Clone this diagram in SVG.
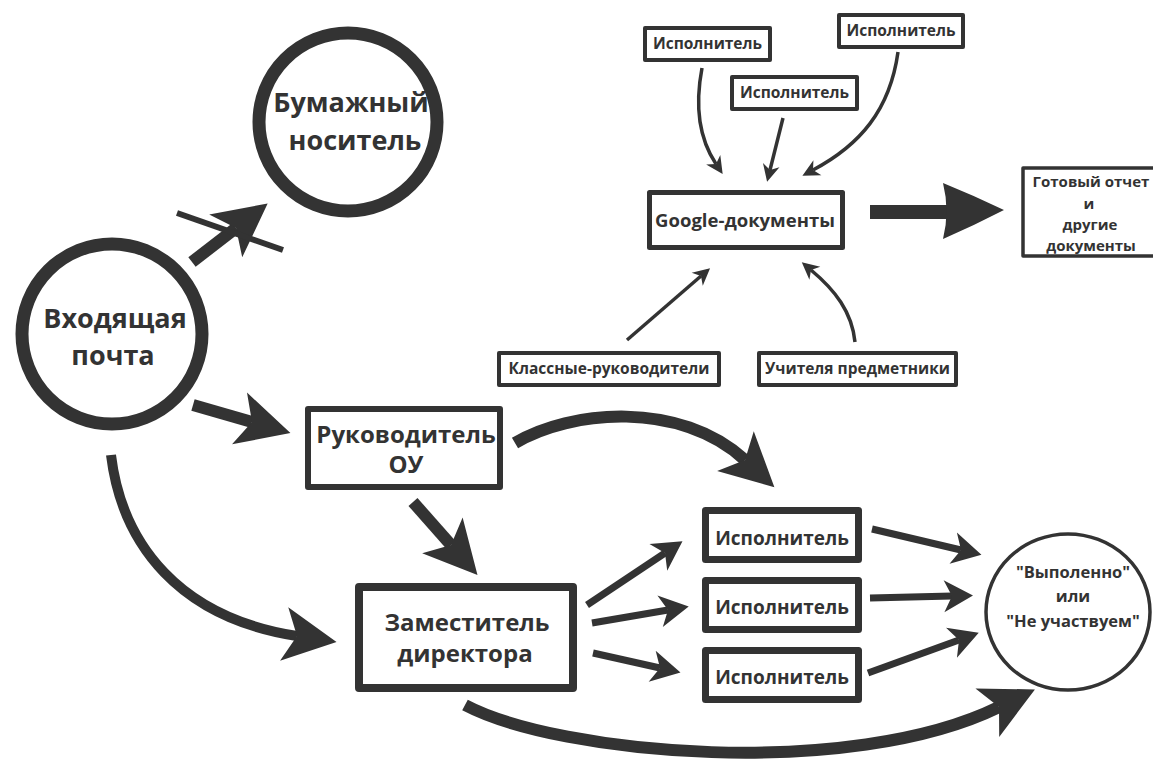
<svg xmlns="http://www.w3.org/2000/svg" width="1153" height="762" viewBox="0 0 1153 762">
<style>
text{font-family:"Open Sans","Liberation Sans",sans-serif;font-weight:700;fill:#333;text-anchor:middle}
.box{fill:#fff;stroke:#333;stroke-linejoin:round}
.ring{fill:#fff;stroke:#333}
.thick{fill:none;stroke:#333;stroke-linecap:butt}
</style>
<defs>
<marker id="hb" markerUnits="userSpaceOnUse" orient="auto" refX="0" refY="0" markerWidth="80" markerHeight="80" viewBox="-20 -40 80 80" style="overflow:visible">
<path d="M40 0 L-13 -27 L0 0 L-13 27 Z" fill="#333"/>
</marker>
<marker id="hm" markerUnits="userSpaceOnUse" orient="auto" refX="0" refY="0" markerWidth="40" markerHeight="40" viewBox="-10 -20 40 40" style="overflow:visible">
<path d="M21 0 L-8 -16 L0 0 L-8 16 Z" fill="#333"/>
</marker>
<marker id="hs" markerUnits="userSpaceOnUse" orient="auto" refX="0" refY="0" markerWidth="30" markerHeight="30" viewBox="-10 -15 30 30" style="overflow:visible">
<path d="M12 0 L-5 -8.5 L0 0 L-5 8.5 Z" fill="#333"/>
</marker>
</defs>

<g id="connectors">
<!-- paper arrow with cross line -->
<path class="thick" d="M192 262 L236 228" stroke-width="12" marker-end="url(#hb)"/>
<line x1="177" y1="213" x2="283" y2="250" stroke="#333" stroke-width="6"/>
<!-- incoming -> head -->
<path class="thick" d="M193 405 L252 422" stroke-width="12" marker-end="url(#hb)"/>
<!-- incoming -> deputy -->
<path class="thick" d="M111 455 C122 545, 180 618, 297 636" stroke-width="10" marker-end="url(#hb)"/>
<!-- head -> deputy -->
<path class="thick" d="M413 502 L451 545" stroke-width="12" marker-end="url(#hb)"/>
<!-- head -> executor 1 -->
<path class="thick" d="M515 443 C570 410, 680 400, 745 460" stroke-width="12" marker-end="url(#hb)"/>
<!-- deputy -> result circle -->
<path class="thick" d="M465 705 C560 755, 850 780, 999 707" stroke-width="12" marker-end="url(#hb)"/>
<!-- deputy -> executors -->
<path class="thick" d="M587 605 L665 553" stroke-width="7" marker-end="url(#hm)"/>
<path class="thick" d="M592 623 L668 610" stroke-width="7" marker-end="url(#hm)"/>
<path class="thick" d="M593 653 L660 668" stroke-width="7" marker-end="url(#hm)"/>
<!-- executors -> result -->
<path class="thick" d="M872 529 L961 550" stroke-width="7" marker-end="url(#hm)"/>
<path class="thick" d="M870 598 L952 596" stroke-width="7" marker-end="url(#hm)"/>
<path class="thick" d="M868 673 L959 640" stroke-width="7" marker-end="url(#hm)"/>
<!-- thin arrows into Google docs -->
<path class="thick" d="M702 68 C694 110, 700 140, 716 164" stroke-width="3.5" marker-end="url(#hs)"/>
<path class="thick" d="M783 118 L770 170" stroke-width="3.5" marker-end="url(#hs)"/>
<path class="thick" d="M898 52 C890 110, 860 145, 813 170" stroke-width="3.5" marker-end="url(#hs)"/>
<path class="thick" d="M627 340 L701 276" stroke-width="3.5" marker-end="url(#hs)"/>
<path class="thick" d="M855 342 C852 312, 835 290, 811 270" stroke-width="3.5" marker-end="url(#hs)"/>
<!-- big arrow Google -> report -->
<path d="M870 205 L948 205 L948 219 L870 219 Z" fill="#333"/>
<path d="M943 183 Q975 196 1004 210 Q975 225 943 239 Q950 211 943 183 Z" fill="#333"/>
</g>

<g id="node-paper">
<circle class="ring" cx="348" cy="122" r="89" stroke-width="13"/>
<text x="351" y="112" font-size="27">Бумажный</text>
<text x="355" y="150" font-size="27">носитель</text>
</g>

<g id="node-incoming">
<circle class="ring" cx="112" cy="334" r="90" stroke-width="13"/>
<text x="115" y="328" font-size="27">Входящая</text>
<text x="113" y="365" font-size="27">почта</text>
</g>

<g id="node-head">
<rect class="box" x="308" y="409" width="192" height="78" stroke-width="6"/>
<text x="406" y="443" font-size="24">Руководитель</text>
<text x="406" y="473" font-size="24">ОУ</text>
</g>

<g id="node-deputy">
<rect class="box" x="359" y="587" width="214" height="101" stroke-width="8"/>
<text x="467" y="631" font-size="24">Заместитель</text>
<text x="465" y="662" font-size="24">директора</text>
</g>

<g id="node-exec1">
<rect class="box" x="705.5" y="510.5" width="153" height="49" stroke-width="7"/>
<text x="782" y="545" font-size="19">Исполнитель</text>
</g>
<g id="node-exec2">
<rect class="box" x="705.5" y="580.5" width="153" height="49" stroke-width="7"/>
<text x="782" y="614" font-size="19">Исполнитель</text>
</g>
<g id="node-exec3">
<rect class="box" x="705.5" y="650.5" width="153" height="49" stroke-width="7"/>
<text x="782" y="684" font-size="19">Исполнитель</text>
</g>

<g id="node-result">
<ellipse class="ring" cx="1068" cy="612" rx="82" ry="78" stroke-width="3.5"/>
<text x="1073" y="578" font-size="16.5">"Выполенно"</text>
<text x="1073" y="602" font-size="16.5">или</text>
<text x="1073" y="627" font-size="16.5">"Не участвуем"</text>
</g>

<g id="node-google">
<rect class="box" x="649.5" y="192.5" width="193" height="55" stroke-width="5"/>
<text x="745" y="227" font-size="18.5">Google-документы</text>
</g>

<g id="node-top-exec1">
<rect class="box" x="645" y="28" width="125" height="32" stroke-width="4"/>
<text x="707.5" y="49" font-size="15.5">Исполнитель</text>
</g>
<g id="node-top-exec2">
<rect class="box" x="732" y="77" width="125" height="32" stroke-width="4"/>
<text x="794.5" y="98" font-size="15.5">Исполнитель</text>
</g>
<g id="node-top-exec3">
<rect class="box" x="839" y="15" width="124" height="32" stroke-width="4"/>
<text x="901" y="36" font-size="15.5">Исполнитель</text>
</g>

<g id="node-class-teachers">
<rect class="box" x="499" y="353" width="220" height="32" stroke-width="4"/>
<text x="609" y="374" font-size="15.5">Классные-руководители</text>
</g>
<g id="node-subject-teachers">
<rect class="box" x="759" y="353" width="197" height="32" stroke-width="4"/>
<text x="857.5" y="374" font-size="15.5">Учителя предметники</text>
</g>

<g id="node-report">
<rect class="box" x="1023" y="168" width="140" height="88" stroke-width="3.5"/>
<text x="1091" y="187" font-size="15">Готовый отчет</text>
<text x="1089" y="209" font-size="15">и</text>
<text x="1090" y="230" font-size="15">другие</text>
<text x="1091" y="251" font-size="15">документы</text>
</g>
</svg>
